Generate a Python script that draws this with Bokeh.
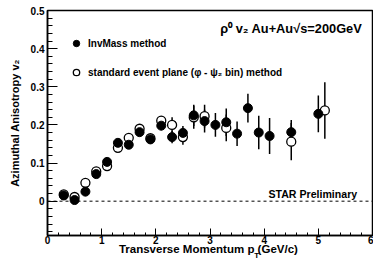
from bokeh.plotting import figure
from bokeh.models import (ColumnDataSource, FixedTicker, Span, Label, Legend, LegendItem)
from bokeh.embed import file_html
from bokeh.resources import INLINE

# ---- data ----
pt_inv = [0.3, 0.5, 0.7, 0.9, 1.1, 1.3, 1.5, 1.7, 1.9, 2.1, 2.3, 2.5, 2.7, 2.9, 3.1, 3.3, 3.5, 3.7, 3.9, 4.1, 4.5, 5.0]
v2_inv = [0.015, 0.003, 0.025, 0.071, 0.103, 0.153, 0.148, 0.181, 0.162, 0.198, 0.168, 0.179, 0.225, 0.210, 0.200, 0.207, 0.177, 0.244, 0.180, 0.171, 0.181, 0.229]
err_inv = [0.009, 0.006, 0.007, 0.007, 0.007, 0.008, 0.008, 0.009, 0.010, 0.012, 0.016, 0.018, 0.028, 0.030, 0.031, 0.036, 0.032, 0.038, 0.044, 0.047, 0.032, 0.048]

pt_ep = [0.3, 0.5, 0.7, 0.9, 1.1, 1.3, 1.5, 1.7, 1.9, 2.1, 2.3, 2.5, 2.7, 2.9, 3.3, 4.5, 5.12]
v2_ep = [0.018, 0.011, 0.048, 0.078, 0.092, 0.140, 0.166, 0.190, 0.165, 0.211, 0.200, 0.168, 0.220, 0.223, 0.192, 0.156, 0.238]
err_ep = [0.010, 0.008, 0.008, 0.008, 0.008, 0.009, 0.009, 0.010, 0.010, 0.012, 0.020, 0.020, 0.030, 0.030, 0.035, 0.049, 0.074]

x_ticks = [0, 1, 2, 3, 4, 5, 6]
y_ticks = [0, 0.1, 0.2, 0.3, 0.4, 0.5]
y_tick_labels = ["0", "0.1", "0.2", "0.3", "0.4", "0.5"]
zero_level = 0.0

label_inv = "InvMass method"
label_ep = "standard event plane (\u03c6 - \u03c8\u2082 bin) method"
title_text = "\u03c1\u2070 v\u2082 Au+Au\u221as=200GeV"
prelim_text = "STAR Preliminary"
y_title = "Azimuthal Anisotropy v\u2082"
x_title = "Transverse Momentum p  (GeV/c)"
x_title_sub = "T"

FONT = "Liberation Sans"

src_inv = ColumnDataSource(dict(x=pt_inv, y=v2_inv,
                                lo=[v - e for v, e in zip(v2_inv, err_inv)],
                                hi=[v + e for v, e in zip(v2_inv, err_inv)]))
src_ep = ColumnDataSource(dict(x=pt_ep, y=v2_ep,
                               lo=[v - e for v, e in zip(v2_ep, err_ep)],
                               hi=[v + e for v, e in zip(v2_ep, err_ep)]))

p = figure(width=373, height=266, x_range=(0, 6), y_range=(-0.09, 0.5),
           output_backend="svg", toolbar_location=None,
           min_border_left=47, min_border_right=1, min_border_top=10, min_border_bottom=31)
p.xgrid.visible = False
p.ygrid.visible = False
p.background_fill_color = "white"
p.border_fill_color = "white"
p.outline_line_color = "black"
p.outline_line_width = 1.5

# axes
x_minor = [i * 0.2 for i in range(31)]
y_minor = [round(-0.08 + i * 0.02, 2) for i in range(30)]
p.xaxis.ticker = FixedTicker(ticks=x_ticks, minor_ticks=x_minor)
p.yaxis.ticker = FixedTicker(ticks=y_ticks, minor_ticks=y_minor)
p.yaxis.major_label_overrides = {t: l for t, l in zip(y_ticks, y_tick_labels)}
for ax in (p.xaxis, p.yaxis):
    ax.axis_line_color = "black"
    ax.axis_line_width = 1.5
    ax.major_tick_line_color = "black"
    ax.minor_tick_line_color = "black"
    ax.major_tick_line_width = 1
    ax.minor_tick_line_width = 1
    ax.major_tick_out = 0
    ax.minor_tick_out = 0
    ax.major_label_text_font = FONT
    ax.major_label_text_font_style = "bold"
    ax.major_label_text_font_size = "10px"
    ax.major_label_text_color = "black"
    ax.axis_label_text_font = FONT
    ax.axis_label_text_font_style = "bold"
    ax.axis_label_text_color = "black"
p.yaxis.major_tick_in = 10
p.yaxis.minor_tick_in = 5
p.xaxis.major_tick_in = 7
p.xaxis.minor_tick_in = 3
p.yaxis.major_label_standoff = 3
p.xaxis.major_label_standoff = 0
p.yaxis.axis_label = y_title
p.yaxis.axis_label_text_font_size = "11px"
p.yaxis.axis_label_standoff = 7
p.xaxis.axis_label = x_title
p.xaxis.axis_label_text_font_size = "11.5px"
p.xaxis.axis_label_standoff = -4

# zero line
p.add_layout(Span(location=zero_level, dimension="width", line_color="black",
                  line_dash="3 3", line_width=1))

# error bars
p.segment(x0="x", y0="lo", x1="x", y1="hi", source=src_ep, line_color="black", line_width=1.5)
p.segment(x0="x", y0="lo", x1="x", y1="hi", source=src_inv, line_color="black", line_width=1.5)

# markers
r_ep = p.scatter("x", "y", source=src_ep, size=9, marker="circle",
                 fill_color="white", line_color="black", line_width=1.3)
r_inv = p.scatter("x", "y", source=src_inv, size=9, marker="circle",
                  fill_color="black", line_color="black", line_width=1)

legend = Legend(items=[LegendItem(label=label_inv, renderers=[r_inv]),
                       LegendItem(label=label_ep, renderers=[r_ep])],
                location="top_left", margin=21, padding=0, glyph_width=16,
                glyph_height=24, label_height=24, label_standoff=4, spacing=5,
                background_fill_alpha=0, border_line_alpha=0,
                label_text_font=FONT, label_text_font_style="bold",
                label_text_font_size="10px", label_text_color="black")
p.add_layout(legend)

# texts inside the frame
p.add_layout(Label(x=5.81, y=0.4515, text=title_text, text_font=FONT, text_font_style="bold",
                   text_font_size="12.8px", text_color="black", text_baseline="alphabetic",
                   text_align="right"))
p.add_layout(Label(x=5.717, y=0.0194, text=prelim_text, text_font=FONT, text_font_style="bold",
                   text_font_size="10.6px", text_color="black", text_baseline="alphabetic",
                   text_align="right"))

# subscript T of the x-axis title (side panel, so it is not clipped to the frame)
p.add_layout(Label(x=3.815, y=-0.1437, text=x_title_sub,
                   text_font=FONT, text_font_style="bold", text_font_size="8px",
                   text_color="black", text_baseline="alphabetic"), "below")

open("out.html", "w").write(file_html(p, INLINE))
